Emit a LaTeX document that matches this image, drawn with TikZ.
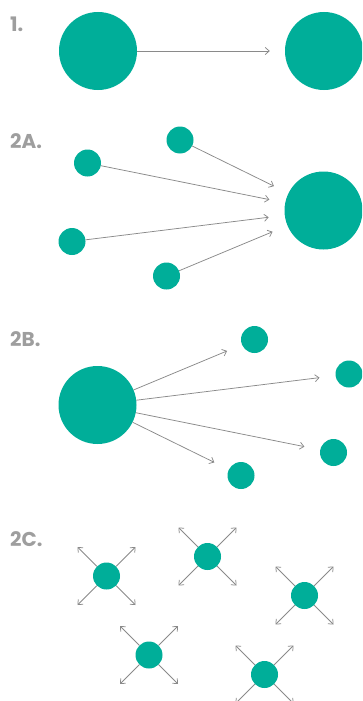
\documentclass[tikz,border=0pt]{standalone}
\usepackage{fontspec}
\setmainfont{Poppins}
\usepackage{xcolor}
\usepackage{tikz}
\usetikzlibrary{arrows.meta,calc,positioning}

\definecolor{dotteal}{HTML}{00AE99}
\definecolor{arrowgray}{HTML}{8A8A8A}
\definecolor{labelgray}{HTML}{9E9E9E}

\begin{document}
\begin{tikzpicture}[x=1pt, y=-1pt,
    big/.style={circle, fill=dotteal, minimum size=78pt, inner sep=0pt},
    small/.style={circle, fill=dotteal, minimum size=27pt, inner sep=0pt},
    arr/.style={-{Straight Barb[length=4pt,width=7pt]}, draw=arrowgray, line width=0.75pt},
    lbl/.style={anchor=base west, text=labelgray, inner sep=0pt, font=\bfseries\fontsize{20}{24}\selectfont}]
    \useasboundingbox (0,0) rectangle (362,701);
    \clip (0,0) rectangle (362,701);

    % 1.
    \node[lbl] (lone) at (10,32) {1.};
    \node[big] (onea) at (98,51) {};
    \node[big] (oneb) at (324,51) {};
    \draw[arr, shorten >=15pt] (onea) -- (oneb);

    % 2A.
    \node[lbl] (ltwoa) at (10,148) {2A.};
    \node[big] (sink) at (323.5,210.5) {};
    \node[small] (ina) at (87.5,163) {};
    \node[small] (inb) at (180,140) {};
    \node[small] (inc) at (72,241.5) {};
    \node[small] (ind) at (166.5,276) {};
    \foreach \n in {ina,inb,inc,ind}
        \draw[arr, shorten >=16pt] (\n) -- (sink);

    % 2B.
    \node[lbl] (ltwob) at (10,346) {2B.};
    \node[big] (source) at (97.5,405) {};
    \node[small] (outa) at (254.5,339.5) {};
    \node[small] (outb) at (349,374) {};
    \node[small] (outc) at (333.5,452.5) {};
    \node[small] (outd) at (241,475.5) {};
    \foreach \n in {outa,outb,outc,outd}
        \draw[arr, shorten >=16pt] (source) -- (\n);

    % 2C.
    \node[lbl] (ltwoc) at (10,546) {2C.};
    \foreach \n/\px/\py in {spa/106.5/576, spb/207.5/556.5, spc/304.5/595.5, spd/149/655, spe/264.5/674.5} {
        \node[small] (\n) at (\px,\py) {};
        \coordinate (\n-ne) at (\px+29,\py-29);
        \coordinate (\n-nw) at (\px-29,\py-29);
        \coordinate (\n-se) at (\px+29,\py+29);
        \coordinate (\n-sw) at (\px-29,\py+29);
        \foreach \c in {ne,nw,se,sw}
            \draw[arr] (\n) -- (\n-\c);
    }
\end{tikzpicture}
\end{document}
